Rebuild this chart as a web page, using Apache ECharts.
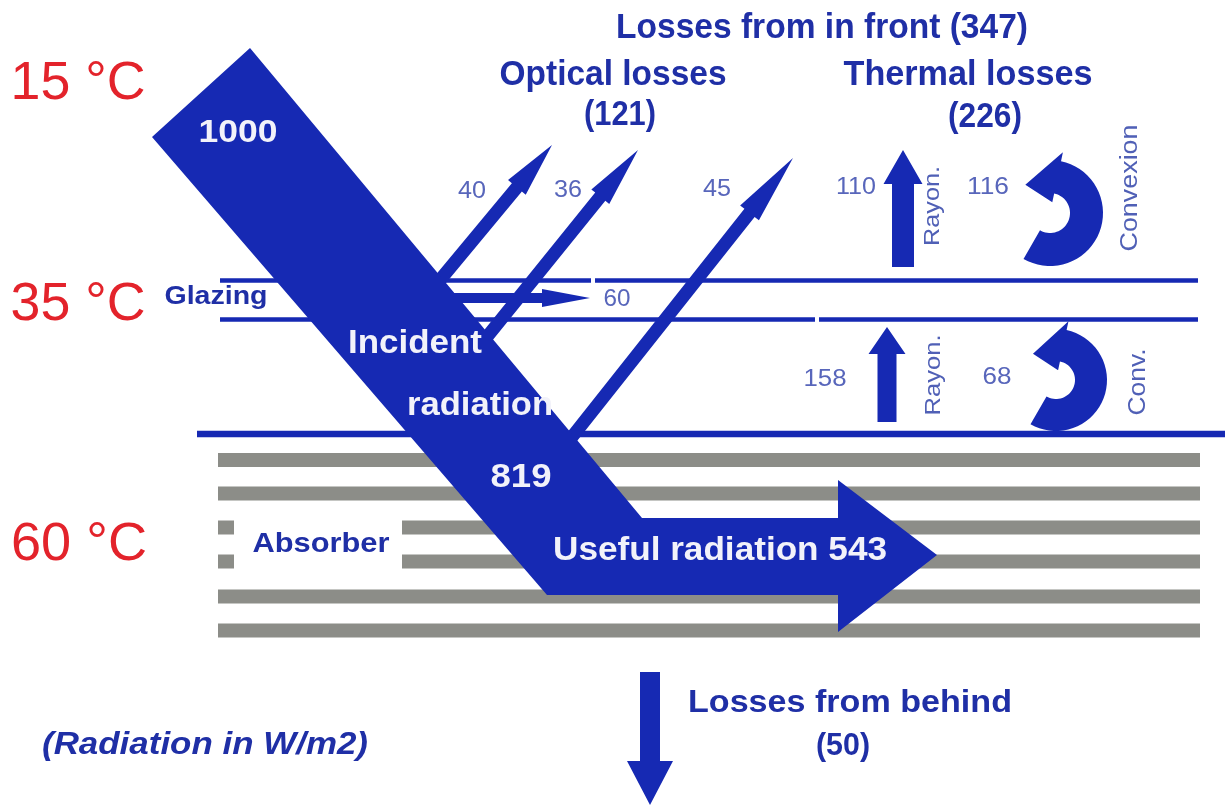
<!DOCTYPE html>
<html><head><meta charset="utf-8">
<script src="https://cdn.jsdelivr.net/npm/echarts@6/dist/echarts.min.js"></script>
<style>html,body{margin:0;padding:0;background:#fff}#c{width:1225px;height:805px}</style>
</head><body><div id="c"></div>
<script>
// ================= DATA (W/m2) =================
const temperatureLabels = ['15 °C', '35 °C', '60 °C'];
const mainFlowValues = [1000, 819, 543];          // incident, absorbed, useful
const opticalLossValues = [40, 36, 45];           // reflected rays
const glazingAbsorbedValues = [60];               // absorbed by the glazing
const thermalTopValues = [110, 116];              // glazing -> outside: rayon., convexion
const thermalBottomValues = [158, 68];            // absorber -> glazing: rayon., conv.
const rearLossValues = [50];                      // losses from behind
const lossTotals = [347, 121, 226];               // front, optical, thermal
const layerNames = ['Glazing', 'Absorber'];
const thermalModeLabels = ['Rayon.', 'Convexion', 'Rayon.', 'Conv.'];
const titleTexts = ['Losses from in front', 'Optical losses', 'Thermal losses', 'Losses from behind', '(Radiation in W/m2)'];
const bandTexts = ['Incident', 'radiation', 'Useful radiation'];

// ================= LAYOUT (diagram units = canvas px) =================
const BLUE = '#1629b3', TXT = '#1f2fa6', NUM = '#5866bb', ROT = '#5060b6', RED = '#e3232b', GRAY = '#8c8d88', WHITE = '#f2f2fa';
const FONT = '"Liberation Sans", Arial, sans-serif';
const stripeRowsY = [460, 493.5, 527.5, 561.5, 596.5, 630.5];
const stripeH = 14;
const stripeFull = [[218, 1200]];
const stripeSplit = [[218, 234], [402, 1200]];
const bandOutline = [[250,48],[642,518],[838,518],[838,480],[937,555],[838,632],[838,595],[547,595],[152,137]];
const lineDefs = [
  {y:280.5, t:4.5, segs:[[220,591],[595,1198]]},
  {y:319.5, t:4.5, segs:[[220,815],[819,1198]]},
  {y:434, t:6.5, segs:[[197,1225]]}
];
const straightArrowDefs = [
  {from:[430,292], to:[552,145], w:13, hw:23, hl:55},
  {from:[478,348], to:[638,150], w:13, hw:23, hl:60},
  {from:[568,442], to:[793,158], w:13, hw:24, hl:70},
  {from:[440,298], to:[590,298], w:10, hw:18, hl:48},
  {from:[903,267], to:[903,150], w:22, hw:39, hl:34},
  {from:[887,422], to:[887,327], w:19, hw:37, hl:27},
  {from:[650,672], to:[650,805], w:20, hw:46, hl:44}
];
const curvedArrowDefs = [
  {c:[1050,213], R:53, r:20, a0:120, a1:-78, hl:30, ext:9, tilt:14},
  {c:[1056,380], R:51, r:19, a0:120, a1:-78, hl:28, ext:9, tilt:14}
];

// text items: [text, cx, cy, size, weight/style, color, targetWidth, rotation(deg)]
const textDefs = [
  [temperatureLabels[0], 78, 84, 53, 'normal', RED, 135, 0],
  [temperatureLabels[1], 78, 305, 53, 'normal', RED, 135, 0],
  [temperatureLabels[2], 79, 545, 53, 'normal', RED, 136, 0],
  [`${titleTexts[0]} (${lossTotals[0]})`, 822, 28, 35, 'bold', TXT, 412, 0],
  [titleTexts[1], 613, 75, 35, 'bold', TXT, 227, 0],
  [`(${lossTotals[1]})`, 620, 115, 35, 'bold', TXT, 72, 0],
  [titleTexts[2], 968, 75, 35, 'bold', TXT, 249, 0],
  [`(${lossTotals[2]})`, 985, 117, 35, 'bold', TXT, 74, 0],
  [titleTexts[3], 850, 703, 32, 'bold', TXT, 324, 0],
  [`(${rearLossValues[0]})`, 843, 746, 32, 'bold', TXT, 54, 0],
  [titleTexts[4], 205, 745, 31, 'italic bold', TXT, 326, 0],
  [String(mainFlowValues[0]), 238, 133, 31, 'bold', WHITE, 79, 0],
  [bandTexts[0], 415, 344, 34, 'bold', WHITE, 134, 0],
  [bandTexts[1], 480, 406, 34, 'bold', WHITE, 146, 0],
  [String(mainFlowValues[1]), 521, 478, 34, 'bold', WHITE, 61, 0],
  [`${bandTexts[2]} ${mainFlowValues[2]}`, 720, 551, 34, 'bold', WHITE, 334, 0],
  [layerNames[0], 216, 297, 25, 'bold', TXT, 103, 0],
  [layerNames[1], 321, 545, 27, 'bold', TXT, 137, 0],
  [String(opticalLossValues[0]), 472, 191, 24, 'normal', NUM, 28, 0],
  [String(opticalLossValues[1]), 568, 190, 24, 'normal', NUM, 28, 0],
  [String(opticalLossValues[2]), 717, 189, 24, 'normal', NUM, 28, 0],
  [String(glazingAbsorbedValues[0]), 617, 299, 24, 'normal', NUM, 27, 0],
  [String(thermalTopValues[0]), 856, 187, 24, 'normal', NUM, 40, 0],
  [String(thermalTopValues[1]), 988, 187, 24, 'normal', NUM, 42, 0],
  [String(thermalBottomValues[0]), 825, 379, 24, 'normal', NUM, 43, 0],
  [String(thermalBottomValues[1]), 997, 377, 24, 'normal', NUM, 29, 0],
  [thermalModeLabels[0], 933, 206, 22, 'normal', ROT, 80, 90],
  [thermalModeLabels[1], 1131, 188, 23, 'normal', ROT, 127, 90],
  [thermalModeLabels[2], 934, 375, 22, 'normal', ROT, 81, 90],
  [thermalModeLabels[3], 1139, 382, 23, 'normal', ROT, 67, 90]
];

// ================= HELPERS =================
const mctx = document.createElement('canvas').getContext('2d');
function measure(font, text) { mctx.font = font; return mctx.measureText(text).width; }
function px(api, p) { return api.coord(p); }
function rectPts(api, x0, x1, yc, h) {
  return [px(api,[x0,yc-h/2]), px(api,[x1,yc-h/2]), px(api,[x1,yc+h/2]), px(api,[x0,yc+h/2])];
}
function arrowPts(p0, p1, w, hw, hl) {
  const dx=p1[0]-p0[0], dy=p1[1]-p0[1], len=Math.hypot(dx,dy);
  const ux=dx/len, uy=dy/len, nx=-uy, ny=ux;
  const bx=p1[0]-ux*hl, by=p1[1]-uy*hl;
  return [[p0[0]+nx*w/2,p0[1]+ny*w/2],[bx+nx*w/2,by+ny*w/2],[bx+nx*hw/2,by+ny*hw/2],p1,
          [bx-nx*hw/2,by-ny*hw/2],[bx-nx*w/2,by-ny*w/2],[p0[0]-nx*w/2,p0[1]-ny*w/2]];
}
function curvedPts(c, R, r, a0, a1, hl, ext, tilt) {
  const pts=[], n=36, d=Math.PI/180;
  for (let i=0;i<=n;i++){const a=(a0+(a1-a0)*i/n)*d; pts.push([c[0]+R*Math.cos(a), c[1]+R*Math.sin(a)]);}
  const a=a1*d, cs=Math.cos(a), sn=Math.sin(a), rm=(R+r)/2, tx=sn, ty=-cs;
  pts.push([c[0]+(R+ext)*cs, c[1]+(R+ext)*sn]);
  pts.push([c[0]+rm*cs+hl*tx-tilt*cs, c[1]+rm*sn+hl*ty-tilt*sn]);
  pts.push([c[0]+(r-ext)*cs, c[1]+(r-ext)*sn]);
  for (let i=n;i>=0;i--){const b=(a0+(a1-a0)*i/n)*d; pts.push([c[0]+r*Math.cos(b), c[1]+r*Math.sin(b)]);}
  return pts;
}
function layer(name, items, z, build) {
  return {type:'custom', name, coordinateSystem:'cartesian2d', z, silent:true, animation:false,
    encode:{x:0, y:1}, data: items.map((_, i) => [i, 0]),
    renderItem: (params, api) => build(items[params.dataIndex], api)};
}

// ================= CHART =================
const chart = echarts.init(document.getElementById('c'), null, {renderer:'canvas'});
chart.setOption({
  backgroundColor:'#ffffff',
  animation:false,
  grid:{left:0, right:0, top:0, bottom:0},
  xAxis:{type:'value', min:0, max:1225, show:false},
  yAxis:{type:'value', min:0, max:805, inverse:true, show:false},
  tooltip:{show:false},
  series:[
    layer('stripes', stripeRowsY, 1, (y, api) => {
      const idx = stripeRowsY.indexOf(y);
      const segs = (idx === 2 || idx === 3) ? stripeSplit : stripeFull;
      return {type:'group', children: segs.map(s => ({type:'polygon', shape:{points:rectPts(api, s[0], s[1], y, stripeH)}, style:{fill:GRAY}}))};
    }),
    layer('lines', lineDefs, 2, (l, api) => ({type:'group', children: l.segs.map(s => ({type:'polygon', shape:{points:rectPts(api, s[0], s[1], l.y, l.t)}, style:{fill:BLUE}}))})),
    layer('straightArrows', straightArrowDefs, 3, (a, api) => {
      const sz = api.size([1, 1]);
      return {type:'polygon', shape:{points:arrowPts(px(api,a.from), px(api,a.to), a.w*sz[0], a.hw*sz[0], a.hl*sz[0])}, style:{fill:BLUE}};
    }),
    layer('curvedArrows', curvedArrowDefs, 3, (a, api) => {
      const sz = api.size([1, 1]);
      return {type:'polygon', shape:{points:curvedPts(px(api,a.c), a.R*sz[0], a.r*sz[0], a.a0, a.a1, a.hl*sz[0], a.ext*sz[0], a.tilt*sz[0])}, style:{fill:BLUE}};
    }),
    layer('mainFlow', [mainFlowValues], 4, (v, api) => ({type:'polygon', shape:{points:bandOutline.map(p => px(api, p))}, style:{fill:BLUE}})),
    layer('texts', textDefs, 6, (t, api) => {
      const [text, cx, cy, size, weight, color, w, rot] = t;
      const font = `${weight} ${size}px ${FONT}`;
      const sx = w / measure(font, text);
      const p = px(api, [cx, cy]);
      return {type:'text', x:p[0], y:p[1], rotation: rot*Math.PI/180, scaleX: sx,
        style:{text, fill:color, font, align:'center', verticalAlign:'middle'}};
    })
  ]
});
</script>
</body></html>
